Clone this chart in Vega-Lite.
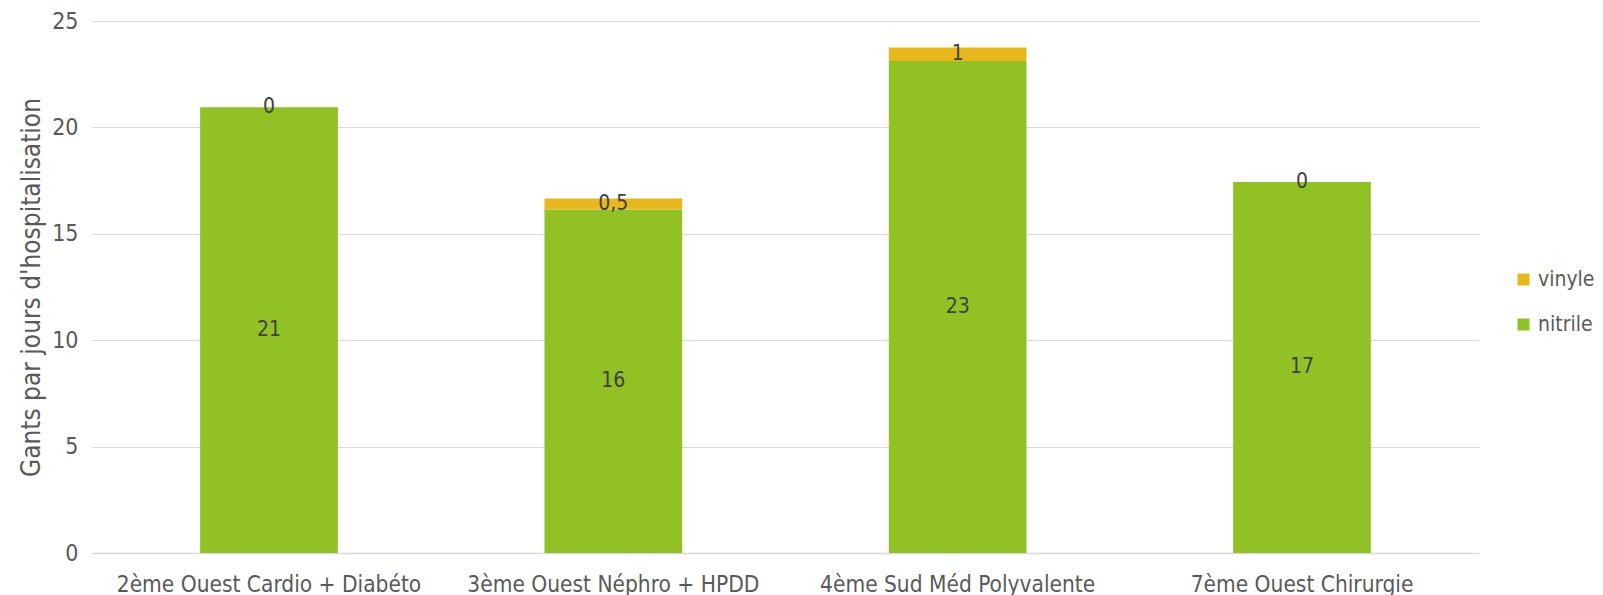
{
  "$schema": "https://vega.github.io/schema/vega-lite/v6.json",
  "width": 1387,
  "height": 532,
  "autosize": "none",
  "padding": {"left": 92, "top": 21, "right": 124, "bottom": 42},
  "background": "white",
  "config": {
    "view": {"stroke": null},
    "font": "DejaVu Sans Condensed"
  },
  "data": {
    "values": [
      {"service": "2ème Ouest Cardio + Diabéto", "type": "nitrile", "value": 20.95, "label": "21", "rank": 1},
      {"service": "2ème Ouest Cardio + Diabéto", "type": "vinyle", "value": 0, "label": "0", "rank": 2},
      {"service": "3ème Ouest Néphro + HPDD", "type": "nitrile", "value": 16.14, "label": "16", "rank": 1},
      {"service": "3ème Ouest Néphro + HPDD", "type": "vinyle", "value": 0.52, "label": "0,5", "rank": 2},
      {"service": "4ème Sud Méd Polyvalente", "type": "nitrile", "value": 23.12, "label": "23", "rank": 1},
      {"service": "4ème Sud Méd Polyvalente", "type": "vinyle", "value": 0.63, "label": "1", "rank": 2},
      {"service": "7ème Ouest Chirurgie", "type": "nitrile", "value": 17.44, "label": "17", "rank": 1},
      {"service": "7ème Ouest Chirurgie", "type": "vinyle", "value": 0, "label": "0", "rank": 2}
    ]
  },
  "transform": [
    {"stack": "value", "groupby": ["service"], "sort": [{"field": "rank", "order": "ascending"}], "as": ["v0", "v1"]},
    {"calculate": "(datum.v0 + datum.v1) / 2", "as": "mid"}
  ],
  "encoding": {
    "x": {
      "field": "service", "type": "nominal", "sort": null,
      "scale": {"paddingInner": 0.6, "paddingOuter": 0.314},
      "axis": {"title": null, "labelAngle": 0, "labelFontSize": 22.5, "labelLimit": 600, "labelColor": "#595959", "ticks": false, "domainColor": "#d9d9d9", "domainWidth": 1.5, "labelPadding": 20}
    }
  },
  "layer": [
    {
      "mark": {"type": "bar"},
      "encoding": {
        "y": {
          "field": "v0", "type": "quantitative",
          "scale": {"domain": [0, 25], "nice": false},
          "axis": {"title": "Gants par jours d'hospitalisation", "titleFontSize": 26, "titleFontWeight": "normal", "titleColor": "#595959", "titlePadding": 7,
            "values": [0, 5, 10, 15, 20, 25], "labelFontSize": 23, "labelColor": "#595959", "ticks": false, "domain": false, "labelPadding": 14, "gridColor": "#d9d9d9", "gridWidth": 1}
        },
        "y2": {"field": "v1"},
        "color": {
          "field": "type", "type": "nominal",
          "scale": {"domain": ["vinyle", "nitrile"], "range": ["#E7B71E", "#92C125"]},
          "legend": {"title": null, "orient": "none", "legendX": 1421, "legendY": 248, "padding": 0, "labelFontSize": 21, "labelColor": "#595959", "symbolType": "square", "symbolSize": 144, "symbolStrokeWidth": 0, "rowPadding": 23, "labelOffset": 4}
        }
      }
    },
    {
      "mark": {"type": "text", "fontSize": 21, "color": "#404040", "baseline": "middle"},
      "encoding": {
        "y": {"field": "mid", "type": "quantitative", "scale": {"domain": [0, 25], "nice": false}},
        "text": {"field": "label", "type": "nominal"}
      }
    }
  ]
}
